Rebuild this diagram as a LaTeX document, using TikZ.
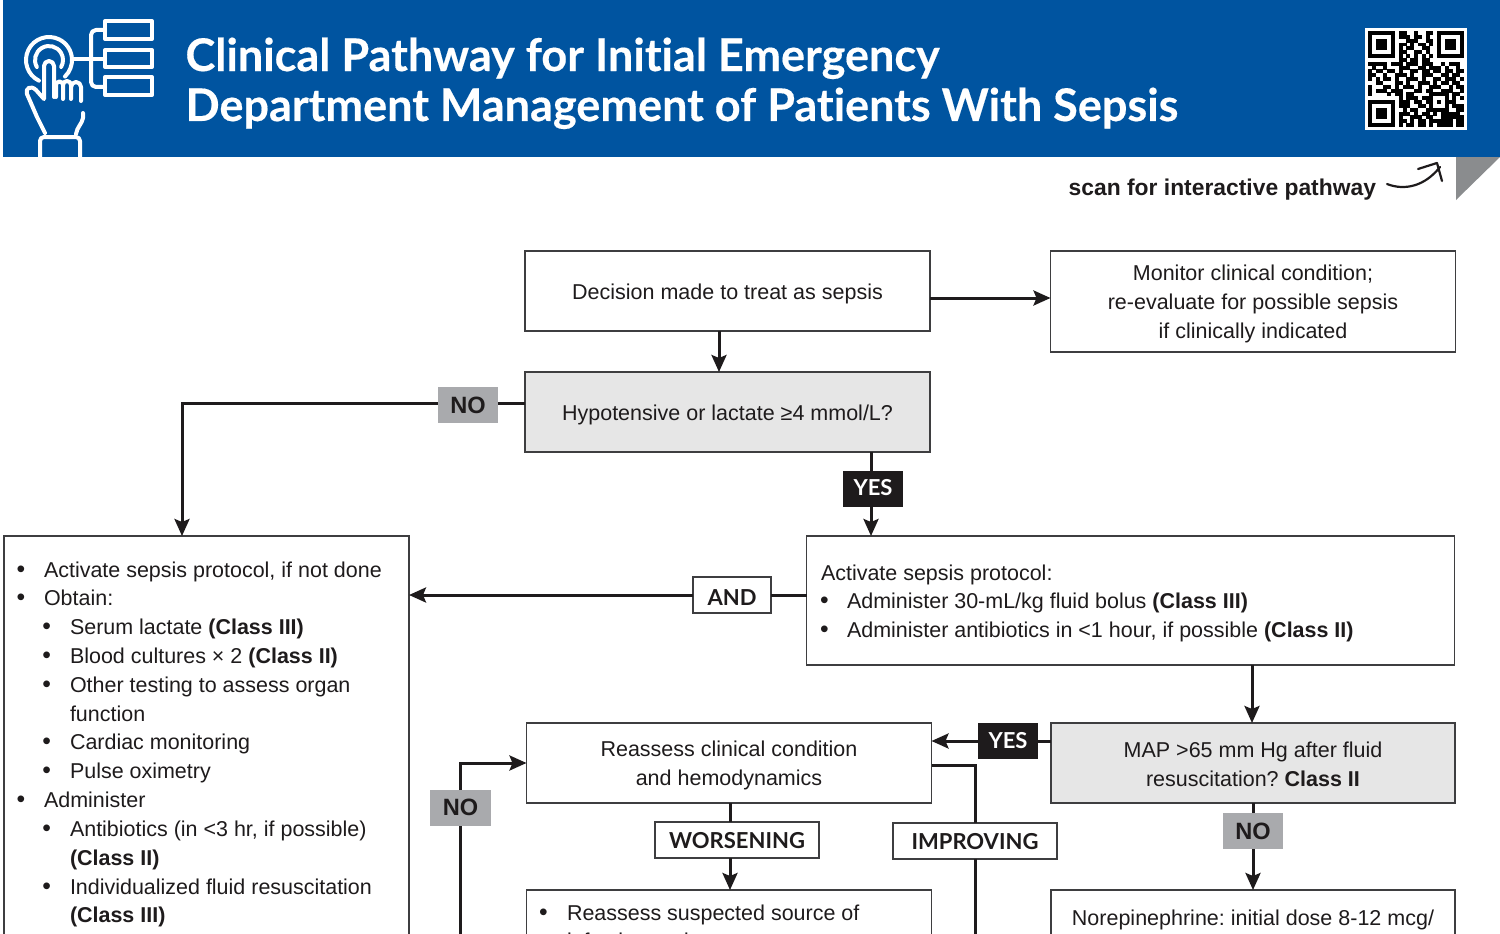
\documentclass[tikz,border=0pt]{standalone}
\usepackage{fontspec}
\setmainfont{Liberation Sans}
\newfontfamily\titlefont[Ligatures=NoCommon,BoldFeatures={FakeBold=0.35}]{Lato}
\newfontfamily\tagfont{Lato}
\usetikzlibrary{arrows.meta,calc}
\definecolor{hdr}{RGB}{0,84,160}
\definecolor{ink}{RGB}{30,27,28}
\definecolor{edgec}{RGB}{62,62,64}
\definecolor{qgray}{RGB}{230,230,230}
\definecolor{tagg}{RGB}{169,170,173}
\definecolor{flap}{RGB}{138,140,142}
\newcount\qrx
\newcount\qry
\def\qrscan#1{\ifx#1\relax\else\ifx#1x\fill[black] (\the\qrx,\the\qry) rectangle ++(1.03,1.03);\fi\advance\qrx by 1 \expandafter\qrscan\fi}
\def\qrrow#1{\qrx=0 \qrscan#1\relax\advance\qry by 1 }
\frenchspacing
\newcommand{\body}{\fontsize{21.5}{29}\selectfont\frenchspacing}
\newcommand{\bodyl}{\fontsize{21.47}{28.83}\selectfont\frenchspacing}
\newcommand{\bul}{\raisebox{0pt}{\scalebox{1.15}{•}}}
\newcommand{\topf}{\rule{0pt}{21pt}}
\newcommand{\topm}{\rule{0pt}{19pt}}
\newcommand{\tops}{\rule{0pt}{22pt}}
\newcommand{\la}[1]{\hspace*{-1.5pt}\makebox[27.5pt][l]{\bul}#1}
\newcommand{\lb}[1]{\hspace*{24.5pt}\makebox[27.5pt][l]{\bul}#1}
\newcommand{\lc}[1]{\hspace*{52pt}#1}
\tikzset{
  box/.style={draw=edgec,line width=1.6pt,fill=white,text=ink,inner sep=0pt,outer sep=0pt,align=flush center,font=\body},
  qbox/.style={box,fill=qgray},
  txt/.style={inner sep=0pt,outer sep=0pt,text=ink,align=flush left,font=\bodyl,anchor=base west},
  tag/.style={minimum height=36pt,inner sep=0pt,outer sep=0pt},
  notag/.style={tag,fill=tagg,text=ink,font=\fontsize{23.6}{25}\selectfont\bfseries},
  yestag/.style={tag,fill=ink,text=white,font=\fontsize{22}{25}\selectfont\tagfont\bfseries},
  wtag/.style={tag,draw=edgec,line width=1.5pt,fill=white,text=ink,font=\fontsize{22}{25}\selectfont\tagfont\bfseries},
  flow/.style={draw=ink,line width=3pt},
  arr/.style={flow,-{Stealth[length=17pt,width=15pt,inset=3pt]}},
  icon/.style={draw=white,line width=4pt,line cap=round,line join=round},
}
\begin{document}
\begin{tikzpicture}[x=1pt,y=-1pt]
\useasboundingbox (0,0) rectangle (1500,934);
\clip (0,0) rectangle (1500,934);
% header
\fill[hdr] (3,0) rectangle (1500,157);
\fill[flap] (1456,157) -- (1500,157) -- (1456,200) -- cycle;
\node[inner sep=0pt,outer sep=0pt,anchor=base west,align=flush left,text=white,font=\fontsize{45}{50}\selectfont\titlefont\bfseries] (title) at (185.5,121) {Clinical Pathway for Initial Emergency\\Department Management of Patients With Sepsis};
\node[inner sep=0pt,outer sep=0pt,anchor=base east,text=ink,font=\fontsize{22.85}{28}\selectfont\bfseries] (scan) at (1376,195) {scan for interactive pathway};
\draw[ink,line width=2.2pt,line cap=round,line join=round] (1387,184) .. controls (1405,191) and (1425,186) .. (1440,167);
\draw[ink,line width=2.2pt,line cap=round,line join=round] (1418,169) -- (1437,163) -- (1442,181);
% icon
\begin{scope}[icon]
\draw (105,21) rectangle (152,39);
\draw (105,50) rectangle (152,67);
\draw (105,77) rectangle (152,95);
\draw[rounded corners=5pt] (105,30) -- (91,30) -- (91,87) -- (105,87);
\draw (74,59) -- (105,59);
\draw (49,60) ++(116:23) arc[start angle=116,end angle=406,radius=23];
\draw (49,60) ++(150:14) arc[start angle=150,end angle=390,radius=14];
\draw (27,94) .. controls (25,88) and (31,85) .. (36,90) -- (44,99) -- (44,66) arc[start angle=180,end angle=360,radius=5] -- (54,97);
\draw (56,97) -- (56,85) arc[start angle=180,end angle=360,radius=3.5] -- (63,99);
\draw (63,85) arc[start angle=180,end angle=360,radius=4] -- (71,99);
\draw (71,87) arc[start angle=180,end angle=360,radius=5] -- (81,101);
\draw (27,94) -- (37,117) -- (45,133);
\draw (83,113) -- (83,118) .. controls (82,124) and (77,127) .. (76,134);
\draw (40,160) -- (40,141) arc[start angle=180,end angle=270,radius=4] -- (76,137) arc[start angle=270,end angle=360,radius=4] -- (80,160);
\end{scope}
% QR
\fill[white] (1365,28) rectangle (1467,130);
\begin{scope}[shift={(1368,31)},x=3.84pt,y=-3.84pt]
\qry=0
\qrrow{xxxxxxx.xx..x..xx.xxxxxxx}
\qrrow{x.....x.xxx.xx.x..x.....x}
\qrrow{x.xxx.x...xxx..xx.x.xxx.x}
\qrrow{x.xxx.x.xx.x.xx.x.x.xxx.x}
\qrrow{x.xxx.x.x.xx..xx..x.xxx.x}
\qrrow{x.....x.xx..xx.x..x.....x}
\qrrow{xxxxxxx.x.x.x.x.x.xxxxxxx}
\qrrow{........xx.xx.xx.........}
\qrrow{xxxxx.xxx.xxx.xxx..x.xxx.}
\qrrow{.x..x...xxx..xx.xxx.x..x.}
\qrrow{x.xx.xx.x..xx.xx.xx.xx.xx}
\qrrow{xx..x..xxx.x..xxx..xx.xx.}
\qrrow{x.x.xx.x..xxx.x..xx.xxx.x}
\qrrow{..xx...xx.x..xxx.x.xx.xx.}
\qrrow{x...xx.x.xxx.x..xxx..x.xx}
\qrrow{x.xxx.xxx...xx.xx..xxx..x}
\qrrow{x....x.xx.xx....xxxxx.xx.}
\qrrow{........x.xxx.xxx...x.x.x}
\qrrow{xxxxxxx.xxx.xx.xx.x.xxx..}
\qrrow{x.....x.xxx..xx.x...x.xxx}
\qrrow{x.xxx.x..x.xx..xxxxxx..xx}
\qrrow{x.xxx.x.xxx.x.xx.x.xxxxx.}
\qrrow{x.xxx.x.x..xxx.xx..xxxxxx}
\qrrow{x.....x.xx.x.xx.xxxxxx.xx}
\qrrow{xxxxxxx.x.xx.xx.x.xxxx.xx}
\end{scope}
% boxes
\node[box,minimum width=405pt,minimum height=80pt] (decision) at (727.5,291) {\tops Decision made to treat as sepsis};
\node[box,minimum width=405pt,minimum height=101pt] (monitor) at (1253,301.5) {\topf Monitor clinical condition;\\re-evaluate for possible sepsis\\if clinically indicated};
\node[qbox,minimum width=405pt,minimum height=80pt] (hypo) at (727.5,412) {\tops Hypotensive or lactate ≥4 mmol/L?};
\node[box,minimum width=405pt,minimum height=424pt] (leftb) at (206.5,748) {};
\node[box,minimum width=648pt,minimum height=129pt] (activate) at (1130.5,600.5) {};
\node[qbox,minimum width=404pt,minimum height=80pt] (map) at (1253,763) {\topm MAP >65 mm Hg after fluid\\resuscitation? \textbf{Class II}};
\node[box,minimum width=405pt,minimum height=80pt] (reassess) at (729,763) {\topf Reassess clinical condition\\and hemodynamics};
\node[box,minimum width=405pt,minimum height=100pt] (source) at (729,940) {};
\node[box,minimum width=404pt,minimum height=100pt] (nor) at (1253,940) {};
% box texts
\node[txt,text width=400pt] (lefttext) at (18,577) {\la{Activate sepsis protocol, if not done}\\\la{Obtain:}\\\lb{Serum lactate \textbf{(Class III)}}\\\lb{Blood cultures × 2 \textbf{(Class II)}}\\\lb{Other testing to assess organ}\\\lc{function}\\\lb{Cardiac monitoring}\\\lb{Pulse oximetry}\\\la{Administer}\\\lb{Antibiotics (in <3 hr, if possible)}\\\lc{\textbf{(Class II)}}\\\lb{Individualized fluid resuscitation}\\\lc{\textbf{(Class III)}}};
\node[txt,text width=630pt] (activatetext) at (821,580) {Activate sepsis protocol:\\\hspace*{-1pt}\makebox[27pt][l]{\bul}Administer 30-mL/kg fluid bolus \textbf{(Class III)}\\\hspace*{-1pt}\makebox[27pt][l]{\bul}Administer antibiotics in <1 hour, if possible \textbf{(Class II)}};
\node[txt,text width=390pt] (sourcetext) at (540,920) {\hspace*{-1pt}\makebox[28pt][l]{\bul}Reassess suspected source of\\\hspace*{27pt}infection and treatment};
\node[txt,anchor=base,align=flush center,font=\body] (nortext) at (1253,925) {Norepinephrine: initial dose 8-12 mcg/};
% labels
\node[notag,minimum width=60pt] (no1) at (468,405) {NO};
\node[yestag,minimum width=60pt] (yes1) at (873,488.5) {\rule[-2pt]{0pt}{2pt}YES};
\node[wtag,minimum width=78pt] (and) at (732,595) {\rule{0pt}{20pt}AND};
\node[yestag,minimum width=60pt] (yes2) at (1008,741) {\rule[-2pt]{0pt}{2pt}YES};
\node[notag,minimum width=60pt] (no2) at (1253,831) {NO};
\node[notag,minimum width=61pt] (no3) at (460.5,807.5) {NO};
\node[wtag,minimum width=164pt] (wors) at (737,840) {\rule{0pt}{18pt}WORSENING};
\node[wtag,minimum width=164pt] (impr) at (975,841) {\rule{0pt}{18pt}IMPROVING};
\coordinate (nooff) at (460.5,945);
\coordinate (imoff) at (975,945);
% connectors
\draw[arr] ([yshift=-7pt]decision.east) -- ([yshift=3.5pt]monitor.west);
\draw[arr] ([xshift=-8.5pt]decision.south) -- ([xshift=-8.5pt]hypo.north);
\draw[flow] ([yshift=9pt]hypo.west) -- ([yshift=2pt]no1.east);
\draw[arr] ([yshift=2pt]no1.west) -| ([xshift=-24.5pt]leftb.north);
\draw[flow] ([xshift=143.5pt]hypo.south) -- ([xshift=-2pt]yes1.north);
\draw[arr] ([xshift=-2pt]yes1.south) -- ([xshift=-259.5pt]activate.north);
\draw[flow] ([yshift=5.5pt]activate.west) -- (and.east);
\draw[arr] (and.west) -- ([yshift=153pt]leftb.east);
\draw[arr] ([xshift=121.5pt]activate.south) -- ([xshift=-1pt]map.north);
\draw[flow] ([yshift=22pt]map.west) -- (yes2.east);
\draw[arr] (yes2.west) -- ([yshift=22pt]reassess.east);
\draw[flow] (map.south) -- (no2.north);
\draw[arr] (no2.south) -- (nor.north);
\draw[flow] ([xshift=1pt]reassess.south) -- ([xshift=-7pt]wors.north);
\draw[arr] ([xshift=-7pt]wors.south) -- ([xshift=1pt]source.north);
\draw[flow] ([yshift=-2pt]reassess.east) -| (impr.north);
\draw[flow] (impr.south) -- (imoff);
\draw[flow] (nooff) -- (no3.south);
\draw[arr] (no3.north) |- (reassess.west);
\end{tikzpicture}
\end{document}
